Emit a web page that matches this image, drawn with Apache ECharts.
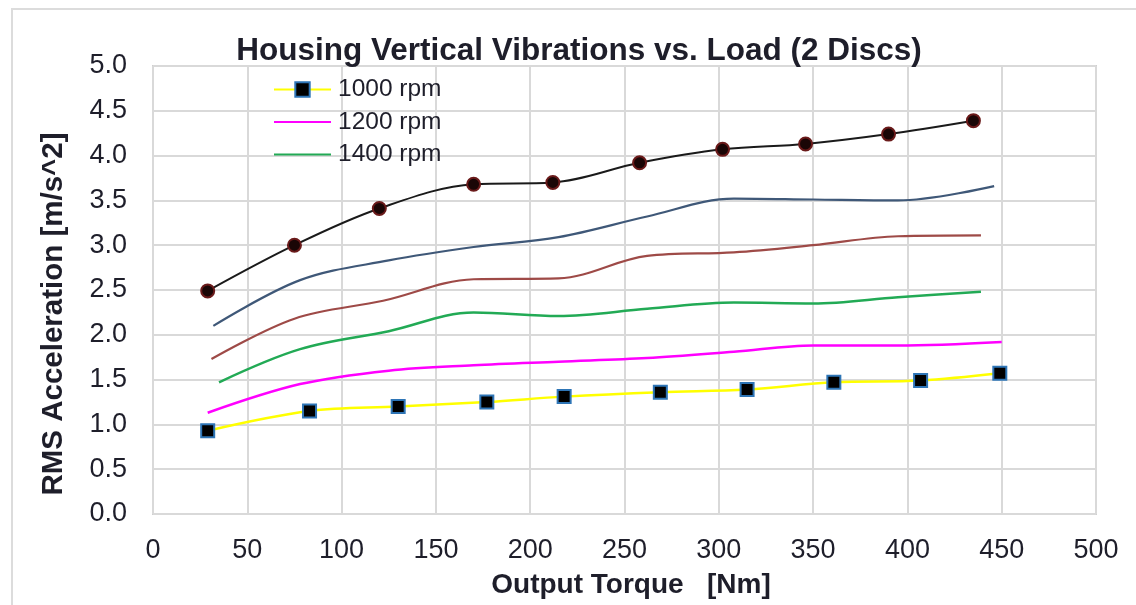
<!DOCTYPE html>
<html>
<head>
<meta charset="utf-8">
<script src="https://cdn.jsdelivr.net/npm/echarts@6/dist/echarts.min.js"></script>
<style>
html,body{margin:0;padding:0;background:#fff;}
#chart{width:1136px;height:605px;}
</style>
</head>
<body>
<div id="chart"></div>
<script>
// ---- data ----
var titleText = 'Housing Vertical Vibrations vs. Load (2 Discs)';
var xAxisTitle = 'Output Torque   [Nm]';
var yAxisTitle = 'RMS Acceleration [m/s^2]';

// 1000 rpm (yellow, square markers)
var x1000 = [29, 83, 130, 177, 218, 269, 315, 361, 407, 449];
var y1000 = [0.93, 1.15, 1.20, 1.25, 1.31, 1.36, 1.39, 1.47, 1.49, 1.57];
// 1200 rpm (magenta)
var x1200 = [29, 78, 125, 170, 215, 262, 308, 350, 395, 450];
var y1200 = [1.13, 1.45, 1.60, 1.66, 1.70, 1.74, 1.81, 1.88, 1.88, 1.92];
// 1400 rpm (green)
var x1400 = [35, 78, 125, 170, 215, 262, 308, 350, 395, 439];
var y1400 = [1.47, 1.84, 2.04, 2.25, 2.21, 2.29, 2.36, 2.35, 2.42, 2.48];
// unlabelled series (brown)
var xS4 = [31, 75, 122, 170, 215, 262, 308, 350, 395, 439];
var yS4 = [1.73, 2.18, 2.38, 2.62, 2.63, 2.88, 2.92, 3.00, 3.10, 3.11];
// unlabelled series (blue-gray)
var xS5 = [32, 78, 125, 170, 215, 262, 308, 350, 395, 446];
var yS5 = [2.10, 2.61, 2.83, 2.98, 3.09, 3.32, 3.52, 3.51, 3.50, 3.66];
// unlabelled series (black, circle markers)
var xS6 = [29, 75, 120, 170, 212, 258, 302, 346, 390, 435];
var yS6 = [2.49, 3.00, 3.41, 3.68, 3.70, 3.92, 4.07, 4.13, 4.24, 4.39];

var legendNames = ['1000 rpm', '1200 rpm', '1400 rpm'];

function pairs(xs, ys) {
  return xs.map(function (x, i) { return [x, ys[i]]; });
}

var FONT = '"Liberation Sans", Arial, sans-serif';
var TXT = '#1e1e2a';

var chart = echarts.init(document.getElementById('chart'));
var option = {
  animation: false,
  backgroundColor: '#ffffff',
  grid: {
    left: 153, right: 40, top: 66, bottom: 91,
    show: true, borderColor: '#cfcfcf', borderWidth: 2, backgroundColor: 'transparent'
  },
  title: {
    text: titleText, left: 574, top: 46, textAlign: 'center', textVerticalAlign: 'middle',
    textStyle: { fontFamily: FONT, fontSize: 31.5, fontWeight: 'bold', color: TXT }
  },
  legend: {
    data: [
      { name: legendNames[0] },
      { name: legendNames[1], itemStyle: { opacity: 0 } },
      { name: legendNames[2], itemStyle: { opacity: 0 } }
    ],
    orient: 'vertical',
    left: 268, top: 72,
    itemWidth: 57, itemHeight: 18, itemGap: 7.5,
    textStyle: { fontFamily: FONT, fontSize: 24.5, color: TXT, lineHeight: 24, padding: [0, 0, 0, 2] }
  },
  xAxis: {
    type: 'value', min: 0, max: 500, interval: 50,
    axisLine: { show: false }, axisTick: { show: false },
    axisLabel: { fontFamily: FONT, fontSize: 27, color: TXT, margin: 23 },
    splitLine: { show: true, lineStyle: { color: '#d9d9d9', width: 2 } }
  },
  yAxis: {
    type: 'value', min: 0, max: 5, interval: 0.5,
    axisLine: { show: false }, axisTick: { show: false },
    axisLabel: { fontFamily: FONT, fontSize: 27, color: TXT, margin: 26,
      formatter: function (v) { return v.toFixed(1); } },
    splitLine: { show: true, lineStyle: { color: '#d9d9d9', width: 2 } }
  },
  graphic: [
    { type: 'rect', shape: { x: 12, y: 9, width: 1200, height: 700 },
      style: { fill: 'none', stroke: '#dcdcdc', lineWidth: 2 }, silent: true, z: -10 },
    { type: 'text', x: 631, y: 585,
      style: { text: xAxisTitle, font: 'bold 28px ' + FONT, fill: TXT, textAlign: 'center', textVerticalAlign: 'middle' } },
    { type: 'text', x: 54, y: 314, rotation: Math.PI / 2,
      style: { text: yAxisTitle, font: 'bold 29.5px ' + FONT, fill: TXT, textAlign: 'center', textVerticalAlign: 'middle' } }
  ],
  series: [
    { name: '1000 rpm', type: 'line', data: pairs(x1000, y1000), smooth: 0.35,
      lineStyle: { color: '#ffff00', width: 2.5 }, itemStyle: { color: '#000000', borderColor: '#2e75b6', borderWidth: 2 },
      symbol: 'rect', symbolSize: 13, z: 6 },
    { name: '1200 rpm', type: 'line', data: pairs(x1200, y1200), smooth: 0.35, symbol: 'none',
      lineStyle: { color: '#ff00ff', width: 2.5 }, itemStyle: { color: '#ff00ff' } },
    { name: '1400 rpm', type: 'line', data: pairs(x1400, y1400), smooth: 0.35, symbol: 'none',
      lineStyle: { color: '#22aa55', width: 2.5 }, itemStyle: { color: '#22aa55' } },
    { name: 'Series 4', type: 'line', data: pairs(xS4, yS4), smooth: 0.35, symbol: 'none',
      lineStyle: { color: '#9e4a47', width: 2.2 }, itemStyle: { color: '#9e4a47' } },
    { name: 'Series 5', type: 'line', data: pairs(xS5, yS5), smooth: 0.35, symbol: 'none',
      lineStyle: { color: '#3f5878', width: 2.2 }, itemStyle: { color: '#3f5878' } },
    { name: 'Series 6', type: 'line', data: pairs(xS6, yS6), smooth: 0.35,
      lineStyle: { color: '#1a1a1a', width: 2 }, itemStyle: { color: '#1a0606', borderColor: '#6a1a1a', borderWidth: 2 },
      symbol: 'circle', symbolSize: 13, z: 6 }
  ]
};
chart.setOption(option);
</script>
</body>
</html>
